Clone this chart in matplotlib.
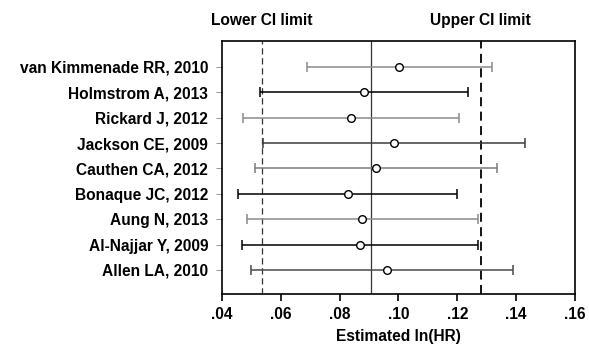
import matplotlib
matplotlib.use("Agg")
import matplotlib.pyplot as plt

plt.rcParams['font.family'] = ['Liberation Sans', 'DejaVu Sans']

studies = ["van Kimmenade RR, 2010", "Holmstrom A, 2013", "Rickard J, 2012",
           "Jackson CE, 2009", "Cauthen CA, 2012", "Bonaque JC, 2012",
           "Aung N, 2013", "Al-Najjar Y, 2009", "Allen LA, 2010"]
estimate = [0.1002, 0.0882, 0.0838, 0.0985, 0.0924, 0.0827, 0.0877, 0.0869, 0.0961]
lower = [0.0689, 0.0528, 0.0471, 0.0539, 0.0512, 0.0455, 0.0486, 0.0467, 0.0500]
upper = [0.1317, 0.1238, 0.1207, 0.1431, 0.1334, 0.1199, 0.1271, 0.1271, 0.1390]
line_colors = ["#8a8a8a", "#000000", "#8a8a8a", "#3c3c3c", "#7a7a7a",
               "#000000", "#8a8a8a", "#000000", "#4a4a4a"]

pooled = 0.0906
ci_low = 0.0536
ci_high = 0.1280
xticks = [0.04, 0.06, 0.08, 0.10, 0.12, 0.14, 0.16]
xtick_labels = [".04", ".06", ".08", ".10", ".12", ".14", ".16"]


def main():
    fig = plt.figure(figsize=(5.89, 3.46), dpi=100)
    ax = fig.add_axes([0.377, 0.150, 0.599, 0.732])

    n = len(studies)
    ys = [n - 1 - i for i in range(n)]

    ax.axvline(ci_low, color="#333333", lw=0.9, ls=(0, (5, 3)))
    ax.axvline(ci_high, color="black", lw=1.3, ls=(0, (5, 3)))
    ax.axvline(pooled, color="#333333", lw=0.9)

    for i in range(n):
        ax.errorbar(estimate[i], ys[i],
                    xerr=[[estimate[i] - lower[i]], [upper[i] - estimate[i]]],
                    fmt="none", ecolor=line_colors[i], elinewidth=1.1,
                    capsize=3.5, capthick=1.1, zorder=2)
    ax.plot(estimate, ys, "o", ms=5.5, mfc="white", mec="black", mew=1.0,
            zorder=3, ls="none")

    fs = 11.2
    ax.set_xlim(0.04, 0.16)
    ax.set_ylim(-0.95, n - 1 + 1.03)
    ax.set_xticks(xticks)
    ax.set_xticklabels(xtick_labels, fontsize=fs, fontweight="bold")
    ax.set_yticks(ys)
    ax.set_yticklabels(studies, fontsize=fs, fontweight="bold")
    ax.tick_params(axis="x", direction="out", length=5, width=1.2, pad=4)
    ax.tick_params(axis="y", direction="out", length=4, width=0.6,
                   color="#888888", pad=6)
    for s in ax.spines.values():
        s.set_linewidth(1.2)

    ax.set_xlabel("Estimated ln(HR)", fontsize=fs, fontweight="bold",
                  labelpad=5)

    ax.text(ci_low, 1.05, "Lower CI limit", transform=ax.get_xaxis_transform(),
            ha="center", va="bottom", fontsize=fs, fontweight="bold")
    ax.text(ci_high, 1.05, "Upper CI limit", transform=ax.get_xaxis_transform(),
            ha="center", va="bottom", fontsize=fs, fontweight="bold")

    fig.savefig("out.png", dpi=100)


if __name__ == "__main__":
    main()
